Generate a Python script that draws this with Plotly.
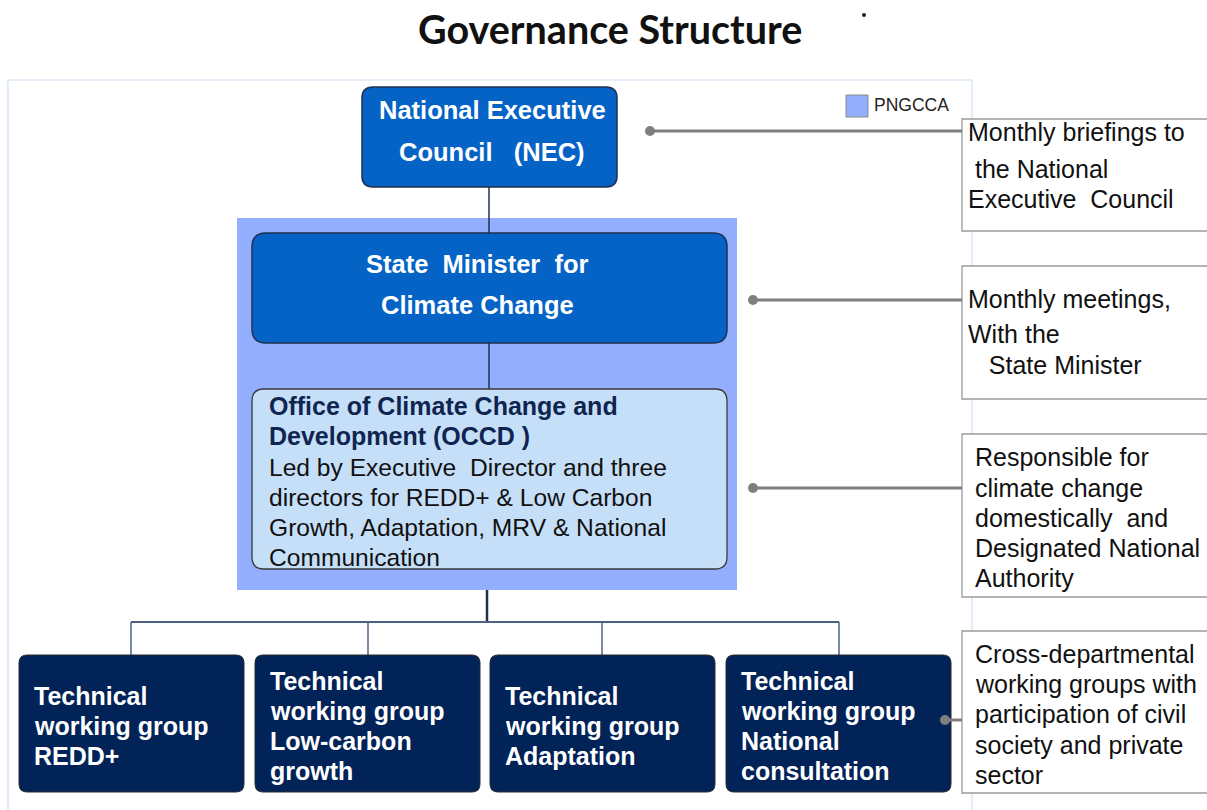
import plotly.graph_objects as go

# ---------------- data (texts) ----------------
title_text = "Governance Structure"
legend_label = "PNGCCA"
nec_lines = ["National Executive", "Council   (NEC)"]
minister_lines = ["State  Minister  for", "Climate Change"]
occd_bold_lines = ["Office of Climate Change and", "Development (OCCD )"]
occd_body_lines = ["Led by Executive  Director and three",
                   "directors for REDD+ & Low Carbon",
                   "Growth, Adaptation, MRV & National",
                   "Communication"]
twg_lines = [["Technical", "working group", "REDD+"],
             ["Technical", "working group", "Low-carbon", "growth"],
             ["Technical", "working group", "Adaptation"],
             ["Technical", "working group", "National", "consultation"]]
callout_lines = [["Monthly briefings to", " the National", "Executive  Council"],
                 ["Monthly meetings,", "With the", "   State Minister"],
                 ["Responsible for", "climate change", "domestically  and",
                  "Designated National", "Authority"],
                 ["Cross-departmental", "working groups with",
                  "participation of civil", "society and private", "sector"]]

# ---------------- layout geometry (pixel space) ----------------
W, H = 1207, 810
FONT = "Liberation Sans, Arial, sans-serif"
C_BLUE = "#0563C6"
C_NAVY = "#022358"
C_EDGE = "#1f3050"
C_PNG = "#93AEFC"
C_OCCD = "#C6DFF8"
C_GREY = "#7f7f7f"

shapes = []
annotations = []


def rrect(x0, y0, x1, y1, r, fill, line, lw=1.5, layer="above"):
    p = (f"M {x0+r},{y0} L {x1-r},{y0} Q {x1},{y0} {x1},{y0+r} "
         f"L {x1},{y1-r} Q {x1},{y1} {x1-r},{y1} L {x0+r},{y1} "
         f"Q {x0},{y1} {x0},{y1-r} L {x0},{y0+r} Q {x0},{y0} {x0+r},{y0} Z")
    shapes.append(dict(type="path", path=p, xref="x", yref="y",
                       fillcolor=fill, line=dict(color=line, width=lw), layer=layer))


def rect(x0, y0, x1, y1, fill, line, lw=1.0):
    shapes.append(dict(type="rect", x0=x0, y0=y0, x1=x1, y1=y1, xref="x", yref="y",
                       fillcolor=fill, line=dict(color=line, width=lw)))


def seg(x0, y0, x1, y1, color, lw):
    shapes.append(dict(type="line", x0=x0, y0=y0, x1=x1, y1=y1, xref="x", yref="y",
                       line=dict(color=color, width=lw)))


def txt(x, y, s, size, color, bold=False, anchor="left", font=FONT):
    if bold:
        s = f"<b>{s}</b>"
    annotations.append(dict(x=x, y=y, xref="x", yref="y", text=s, showarrow=False,
                            xanchor=anchor, yanchor="middle",
                            font=dict(family=font, size=size, color=color)))


# outer light frame
seg(8, 80, 972, 80, "#cfe0f6", 1.2)
seg(8, 80, 8, 810, "#cfe0f6", 1.2)
seg(972, 80, 972, 810, "#cfe0f6", 1.2)

# PNGCCA background
rect(237, 218, 737, 590, C_PNG, C_PNG, 0)

# connectors in the hierarchy
seg(489, 187, 489, 233, C_EDGE, 1.5)
seg(489, 343, 489, 389, C_EDGE, 1.5)
seg(487, 590, 487, 622, C_EDGE, 2.5)
seg(131, 622, 839, 622, "#4d6283", 2)
for xv in [131, 368, 602, 839]:
    seg(xv, 622, xv, 655, "#4d6283", 1.5)

# NEC
rrect(362, 87, 617, 187, 11, C_BLUE, C_EDGE, 1.5)
for i, s in enumerate(nec_lines):
    txt(492, 110 + i * 42, s, 25.5, "white", True, "center")

# State minister
rrect(252, 233, 727, 343, 14, C_BLUE, C_EDGE, 1.5)
for i, s in enumerate(minister_lines):
    txt(477, 264 + i * 41, s, 25.5, "white", True, "center")

# OCCD
rrect(252, 389, 727, 569, 12, C_OCCD, "#3a3a3a", 1.3)
for i, s in enumerate(occd_bold_lines):
    txt(267, 406 + i * 30, s, 25, "#0f2550", True)
for i, s in enumerate(occd_body_lines):
    txt(267, 467 + i * 30.3, s, 24.6, "#111111")

# Technical working groups
twg_x = [19, 255, 490, 726]
twg_w = 225
for k, lines in enumerate(twg_lines):
    x0 = twg_x[k]
    rrect(x0, 655, x0 + twg_w, 792, 8, C_NAVY, "#2a2a2a", 1)
    y_start = 696 if len(lines) == 3 else 681
    for i, s in enumerate(lines):
        txt(x0 + 13, y_start + i * 30, s, 25, "white", True)

# callouts
callout_box = [(119, 231), (266, 399), (434, 597), (631, 793)]
callout_ys = [[132, 169, 199], [299, 334, 365],
              [457, 488, 518, 548, 578], [654, 684, 714, 745, 775]]
callout_tx = [966, 966, 973, 973]
callout_link = [(650, 131), (753, 300), (753, 488), (945, 720)]
for k, lines in enumerate(callout_lines):
    y0, y1 = callout_box[k]
    rect(962, y0, 1212, y1, "white", "#9a9a9a", 1.3)
    for i, s in enumerate(lines):
        txt(callout_tx[k], callout_ys[k][i], s, 25, "#111111")
    lx, ly = callout_link[k]
    seg(lx, ly, 962, ly, C_GREY, 3)
    shapes.append(dict(type="circle", x0=lx - 5, y0=ly - 5, x1=lx + 5, y1=ly + 5,
                       xref="x", yref="y", fillcolor=C_GREY, line=dict(width=0)))

# legend
rect(846, 95, 868, 117, C_PNG, "#8a8a8a", 1)
txt(872, 105, legend_label, 17.5, "#222222")

# title and stray dot
txt(610, 28, title_text, 39.5, "#111111", True, "center",
    font="Lato, Open Sans, sans-serif")
shapes.append(dict(type="circle", x0=862, y0=13, x1=866, y1=17, xref="x", yref="y",
                   fillcolor="#222", line=dict(width=0)))

fig = go.Figure()
fig.update_layout(
    width=W, height=H, margin=dict(l=0, r=0, t=0, b=0),
    paper_bgcolor="white", plot_bgcolor="white",
    xaxis=dict(range=[0, W], visible=False, fixedrange=True),
    yaxis=dict(range=[H, 0], visible=False, fixedrange=True),
    shapes=shapes, annotations=annotations, showlegend=False,
)
fig.write_html("out.html", config={"displayModeBar": False},
               post_script="document.body.style.margin='0';")
